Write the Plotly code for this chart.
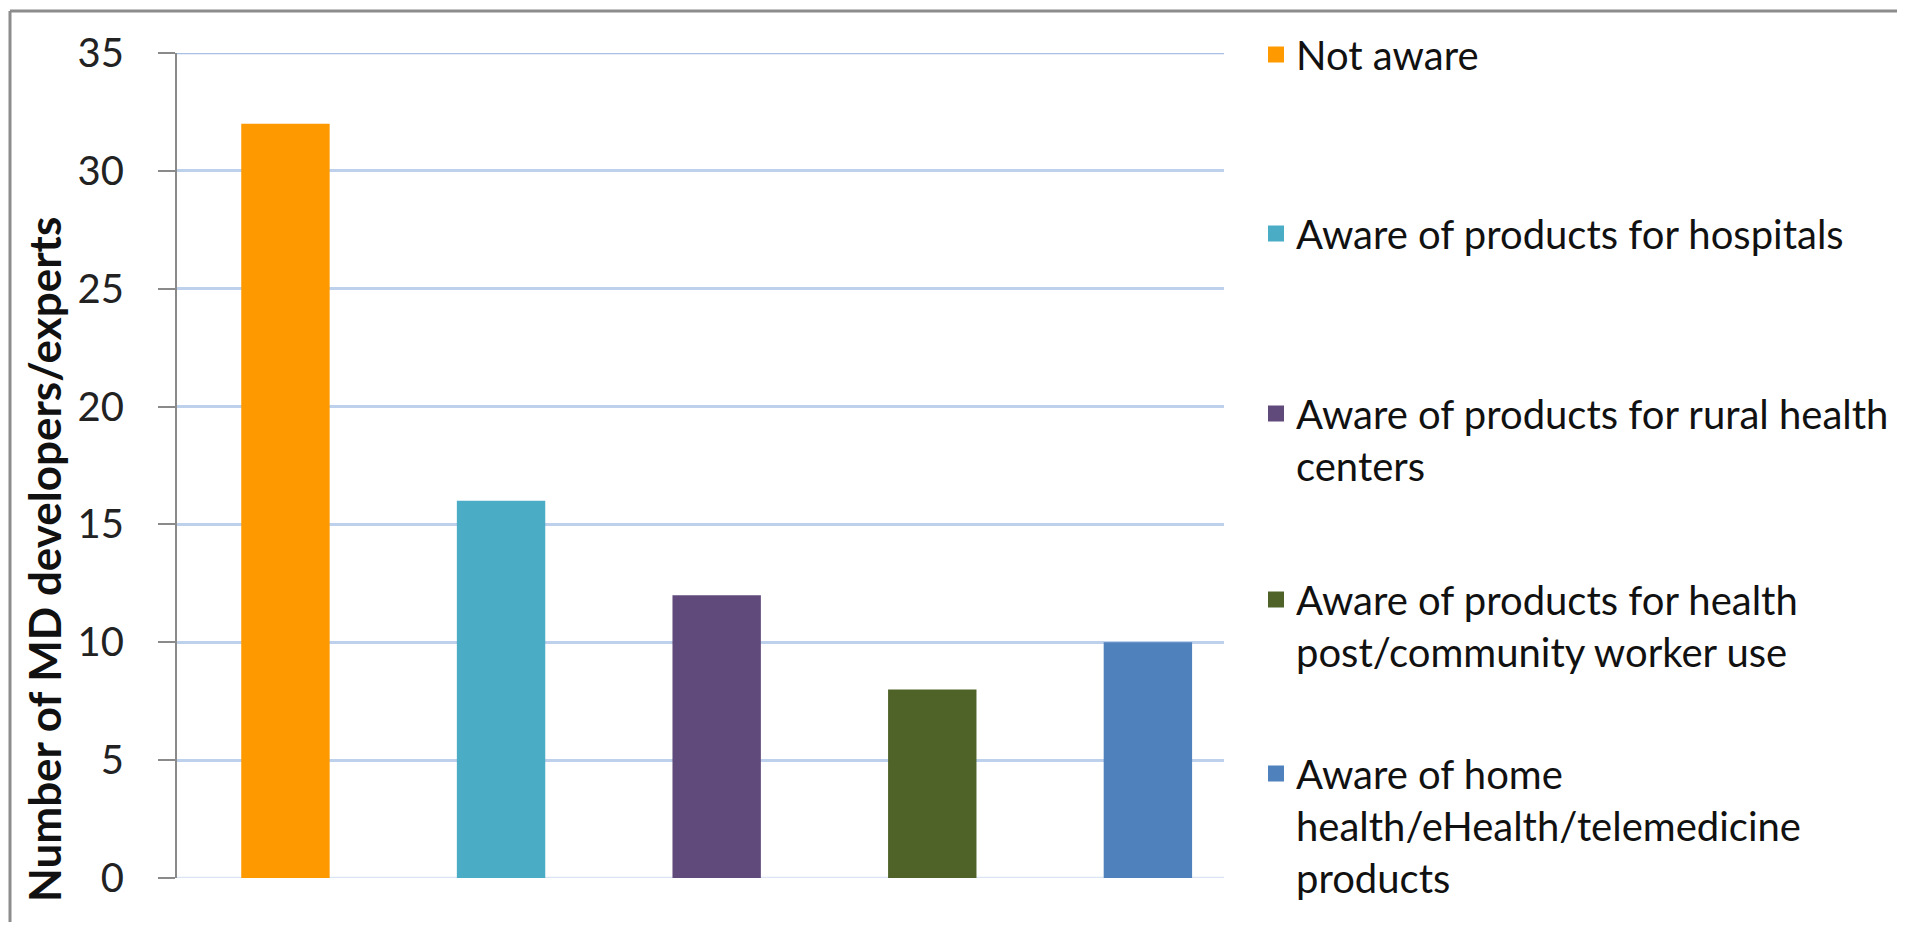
import plotly.graph_objects as go

# data
categories = ["Not aware",
              "Aware of products for hospitals",
              "Aware of products for rural health<br>centers",
              "Aware of products for health<br>post/community worker use",
              "Aware of home<br>health/eHealth/telemedicine<br>products"]
counts = [32, 16, 12, 8, 10]
colors = ["#FF9900", "#4BACC6", "#604A7B", "#4F6228", "#4F81BD"]
y_ticks = [0, 5, 10, 15, 20, 25, 30, 35]

# the page body has an 8px margin, so the figure starts at (8, 8) on screen
OFF = 8
W, H = 1905 - 2 * OFF, 930 - 2 * OFF
# plot area in screen pixels
L, R, T, B = 177, 1224, 53, 878

def px_x(px):
    return (px - L) / (R - L)

def px_y(py):
    return (B - py) / (B - T)

fig = go.Figure()

# where each legend block starts (screen px from top)
legend_tops = [22, 201, 381, 567, 741]

for i, (name, val, col) in enumerate(zip(categories, counts, colors)):
    lg = "legend" if i == 0 else f"legend{i+1}"
    fig.add_trace(go.Bar(
        x=[i], y=[val], name=name,
        marker=dict(color=col, line=dict(width=0)),
        width=0.41, showlegend=False))
    # legend swatch (bigger square than the default bar icon)
    fig.add_trace(go.Scatter(
        x=[None], y=[None], name=name, mode="markers",
        marker=dict(symbol="square", size=18, color=col),
        legend=lg, showlegend=True))

leg_font = dict(family="Lato, Carlito, sans-serif", size=40, color="#111")
legends = {}
for i, top in enumerate(legend_tops):
    key = "legend" if i == 0 else f"legend{i+1}"
    legends[key] = dict(
        x=px_x(1256), y=px_y(top), xanchor="left", yanchor="top",
        font=leg_font, valign="top", bgcolor="rgba(0,0,0,0)",
        itemclick=False, itemdoubleclick=False)

grid_col = "#BDD0EC"
frame_col = "#8C8C8C"
frame_x, frame_y = OFF + 2, OFF + 3   # screen px of the frame edges

fig.update_layout(
    width=W, height=H,
    margin=dict(l=L - OFF, r=(W + OFF) - R, t=T - OFF, b=(H + OFF) - B,
                autoexpand=False),
    paper_bgcolor="white", plot_bgcolor="white",
    barmode="overlay",
    font=dict(family="Lato, Carlito, sans-serif", color="#222"),
    xaxis=dict(range=[-0.503, 4.353], showticklabels=False, showgrid=False,
               zeroline=False, showline=False, ticks=""),
    yaxis=dict(range=[0, 35], tickvals=y_ticks, showgrid=True,
               gridcolor=grid_col, gridwidth=2.5, zeroline=False,
               showline=True, linecolor="#8A8A8A", linewidth=2,
               ticks="outside", ticklen=17, tickwidth=2, tickcolor="#8A8A8A",
               ticklabelstandoff=26, automargin=False,
               tickfont=dict(size=40, color="#222")),
    **legends,
    annotations=[dict(
        text="<b>Number of MD developers/experts</b>",
        xref="paper", yref="paper", x=px_x(44), y=px_y(560),
        xanchor="center", yanchor="middle", textangle=-90, showarrow=False,
        font=dict(size=44, color="#111"))],
    shapes=[
        # gridlines on the range ends, which plotly leaves out
        dict(type="line", xref="paper", yref="y", x0=0, x1=1,
             y0=y_ticks[0], y1=y_ticks[0], layer="below",
             line=dict(color="#DCE5F3", width=2.5)),
        dict(type="line", xref="paper", yref="y", x0=0, x1=1,
             y0=y_ticks[-1], y1=y_ticks[-1], layer="below",
             line=dict(color="#A9C0E4", width=2.5)),
        # outer frame (top and left edges visible in the source image)
        dict(type="line", xref="paper", yref="paper",
             x0=px_x(frame_x), x1=px_x(1905), y0=px_y(frame_y), y1=px_y(frame_y),
             line=dict(color=frame_col, width=3)),
        dict(type="line", xref="paper", yref="paper",
             x0=px_x(frame_x), x1=px_x(frame_x), y0=px_y(frame_y), y1=px_y(930),
             line=dict(color=frame_col, width=3)),
    ],
)

fig.write_html("out.html")
